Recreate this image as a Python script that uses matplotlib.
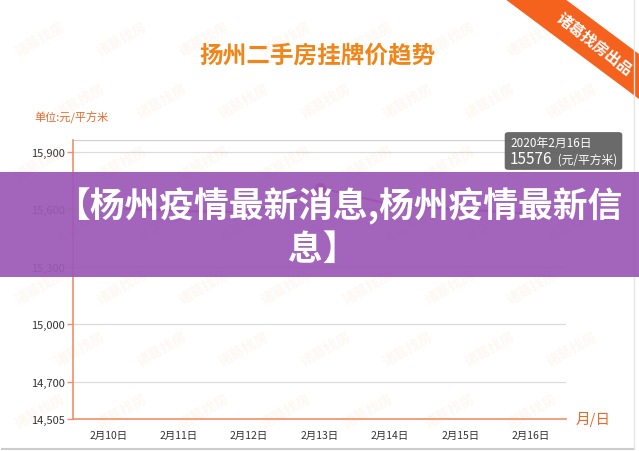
import matplotlib
matplotlib.use("Agg")
import matplotlib.pyplot as plt
from matplotlib.patches import Rectangle, Polygon, FancyBboxPatch

plt.rcParams['font.family'] = ['Noto Sans CJK SC', 'DejaVu Sans']

# ---- data ----
dates = ["2月10日", "2月11日", "2月12日", "2月13日", "2月14日", "2月15日", "2月16日"]
prices = [15605, 15590, 15582, 15710, 15625, 15598, 15576]
y_ticks = [14505, 14700, 15000, 15300, 15600, 15900]
y_tick_labels = ["14,505", "14,700", "15,000", "15,300", "15,600", "15,900"]
y_max = 15960
highlight_index = 3
title = "扬州二手房挂牌价趋势"
unit_label = "单位:元/平方米"
x_unit = "月/日"
tooltip_date = "2020年2月16日"
tooltip_value = "15576"
tooltip_unit = " (元/平方米)"
banner_line1 = "【杨州疫情最新消息,杨州疫情最新信"
banner_line2 = "息】"
ribbon_text = "诸葛找房出品"
watermark = "诸葛找房"

W, H = 639, 452
fig = plt.figure(figsize=(W / 100, H / 100), dpi=100)
fig.patch.set_facecolor("white")

def fx(x):
    return x / W

def fy(y):
    return 1 - y / H

# watermarks (faint), kept inside the canvas
for row in range(7):
    for col in range(8):
        x = 40 + col * 82 + (row % 2) * 40
        y = 40 + row * 62
        if x > 600 or y > 420:
            continue
        fig.text(fx(x), fy(y), watermark, color="#f5a35c", alpha=0.08,
                 fontsize=10, fontweight="bold", rotation=30,
                 ha="center", va="center", zorder=0.5)

# main axes
left, right, top, bottom = 73, 566, 141, 420
ax = fig.add_axes([fx(left), fy(bottom), fx(right - left), (bottom - top) / H])
ax.set_facecolor("none")
xs = list(range(len(dates)))
ax.plot(xs, prices, color="#d81e5b", linewidth=1.5, zorder=3)
ax.plot([xs[highlight_index]], [prices[highlight_index]], marker="o",
        markersize=7, color="#d81e5b", zorder=4)
ax.set_xlim(-0.5, len(dates) - 0.5)
ax.set_ylim(y_ticks[0], y_max)
ax.set_yticks(y_ticks)
ax.set_yticklabels(y_tick_labels)
ax.set_xticks(xs)
ax.set_xticklabels(dates)
for t in y_ticks[1:]:
    ax.axhline(t, color="#dcdcdc", linewidth=0.9, zorder=1)
ax.axhline(y_max, color="#cfcfcf", linewidth=0.9, zorder=1)
for s in ["top", "right"]:
    ax.spines[s].set_visible(False)
for s in ["left", "bottom"]:
    ax.spines[s].set_color("#f0906a")
    ax.spines[s].set_linewidth(1.2)
ax.tick_params(axis="y", colors="#f0906a", labelcolor="#333333", labelsize=8,
               length=4, width=1, pad=2)
ax.tick_params(axis="x", length=0, labelcolor="#333333", labelsize=7.5, pad=8)

# title and labels
fig.text(fx(318), fy(55), title, color="#f08519", fontsize=17,
         fontweight="bold", ha="center", va="center")
fig.text(fx(34), fy(118), unit_label, color="#e8692c", fontsize=8,
         ha="left", va="center")
fig.text(fx(576), fy(420), x_unit, color="#e8692c", fontsize=10.5,
         ha="left", va="center")

# tooltip
tip = FancyBboxPatch((fx(506), fy(170)), fx(115), 36 / H,
                     boxstyle="round,pad=0.002,rounding_size=0.006",
                     transform=fig.transFigure, facecolor="#5a5a5a",
                     edgecolor="none", alpha=0.9, zorder=4)
fig.add_artist(tip)
fig.text(fx(510), fy(143), tooltip_date, color="white", fontsize=8.5,
         ha="left", va="center", zorder=5)
fig.text(fx(510), fy(160), tooltip_value, color="white", fontsize=11,
         ha="left", va="center", zorder=5)
fig.text(fx(555), fy(160), tooltip_unit, color="white", fontsize=8.5,
         ha="left", va="center", zorder=5)

# ribbon top-right
rib = Polygon([(fx(505), fy(0)), (fx(565), fy(0)), (fx(639), fy(55)),
               (fx(639), fy(100))], closed=True, transform=fig.transFigure,
              facecolor="#f5621e", edgecolor="none", zorder=4)
fig.add_artist(rib)
fig.text(fx(594), fy(44), ribbon_text, color="white", fontsize=11,
         fontweight="bold", rotation=-38, ha="center", va="center",
         rotation_mode="anchor", zorder=5)

# card edge
fig.add_artist(plt.Line2D([fx(2), fx(634)], [fy(450), fy(450)],
                          transform=fig.transFigure, color="#cccccc",
                          linewidth=1.5, zorder=4))
fig.add_artist(plt.Line2D([fx(634), fx(634)], [fy(0), fy(450)],
                          transform=fig.transFigure, color="#e6e6e6",
                          linewidth=1.0, zorder=4))

# purple banner
banner = Rectangle((0, fy(278)), 1, 105 / H, transform=fig.transFigure,
                   facecolor="#9b59b6", edgecolor="none", alpha=0.93, zorder=6)
fig.add_artist(banner)
fig.text(fx(339), fy(206), banner_line1, color="white", fontsize=25,
         fontweight="bold", ha="center", va="center", zorder=7)
fig.text(fx(323), fy(249), banner_line2, color="white", fontsize=25,
         fontweight="bold", ha="center", va="center", zorder=7)

fig.savefig("out.png", dpi=100)
